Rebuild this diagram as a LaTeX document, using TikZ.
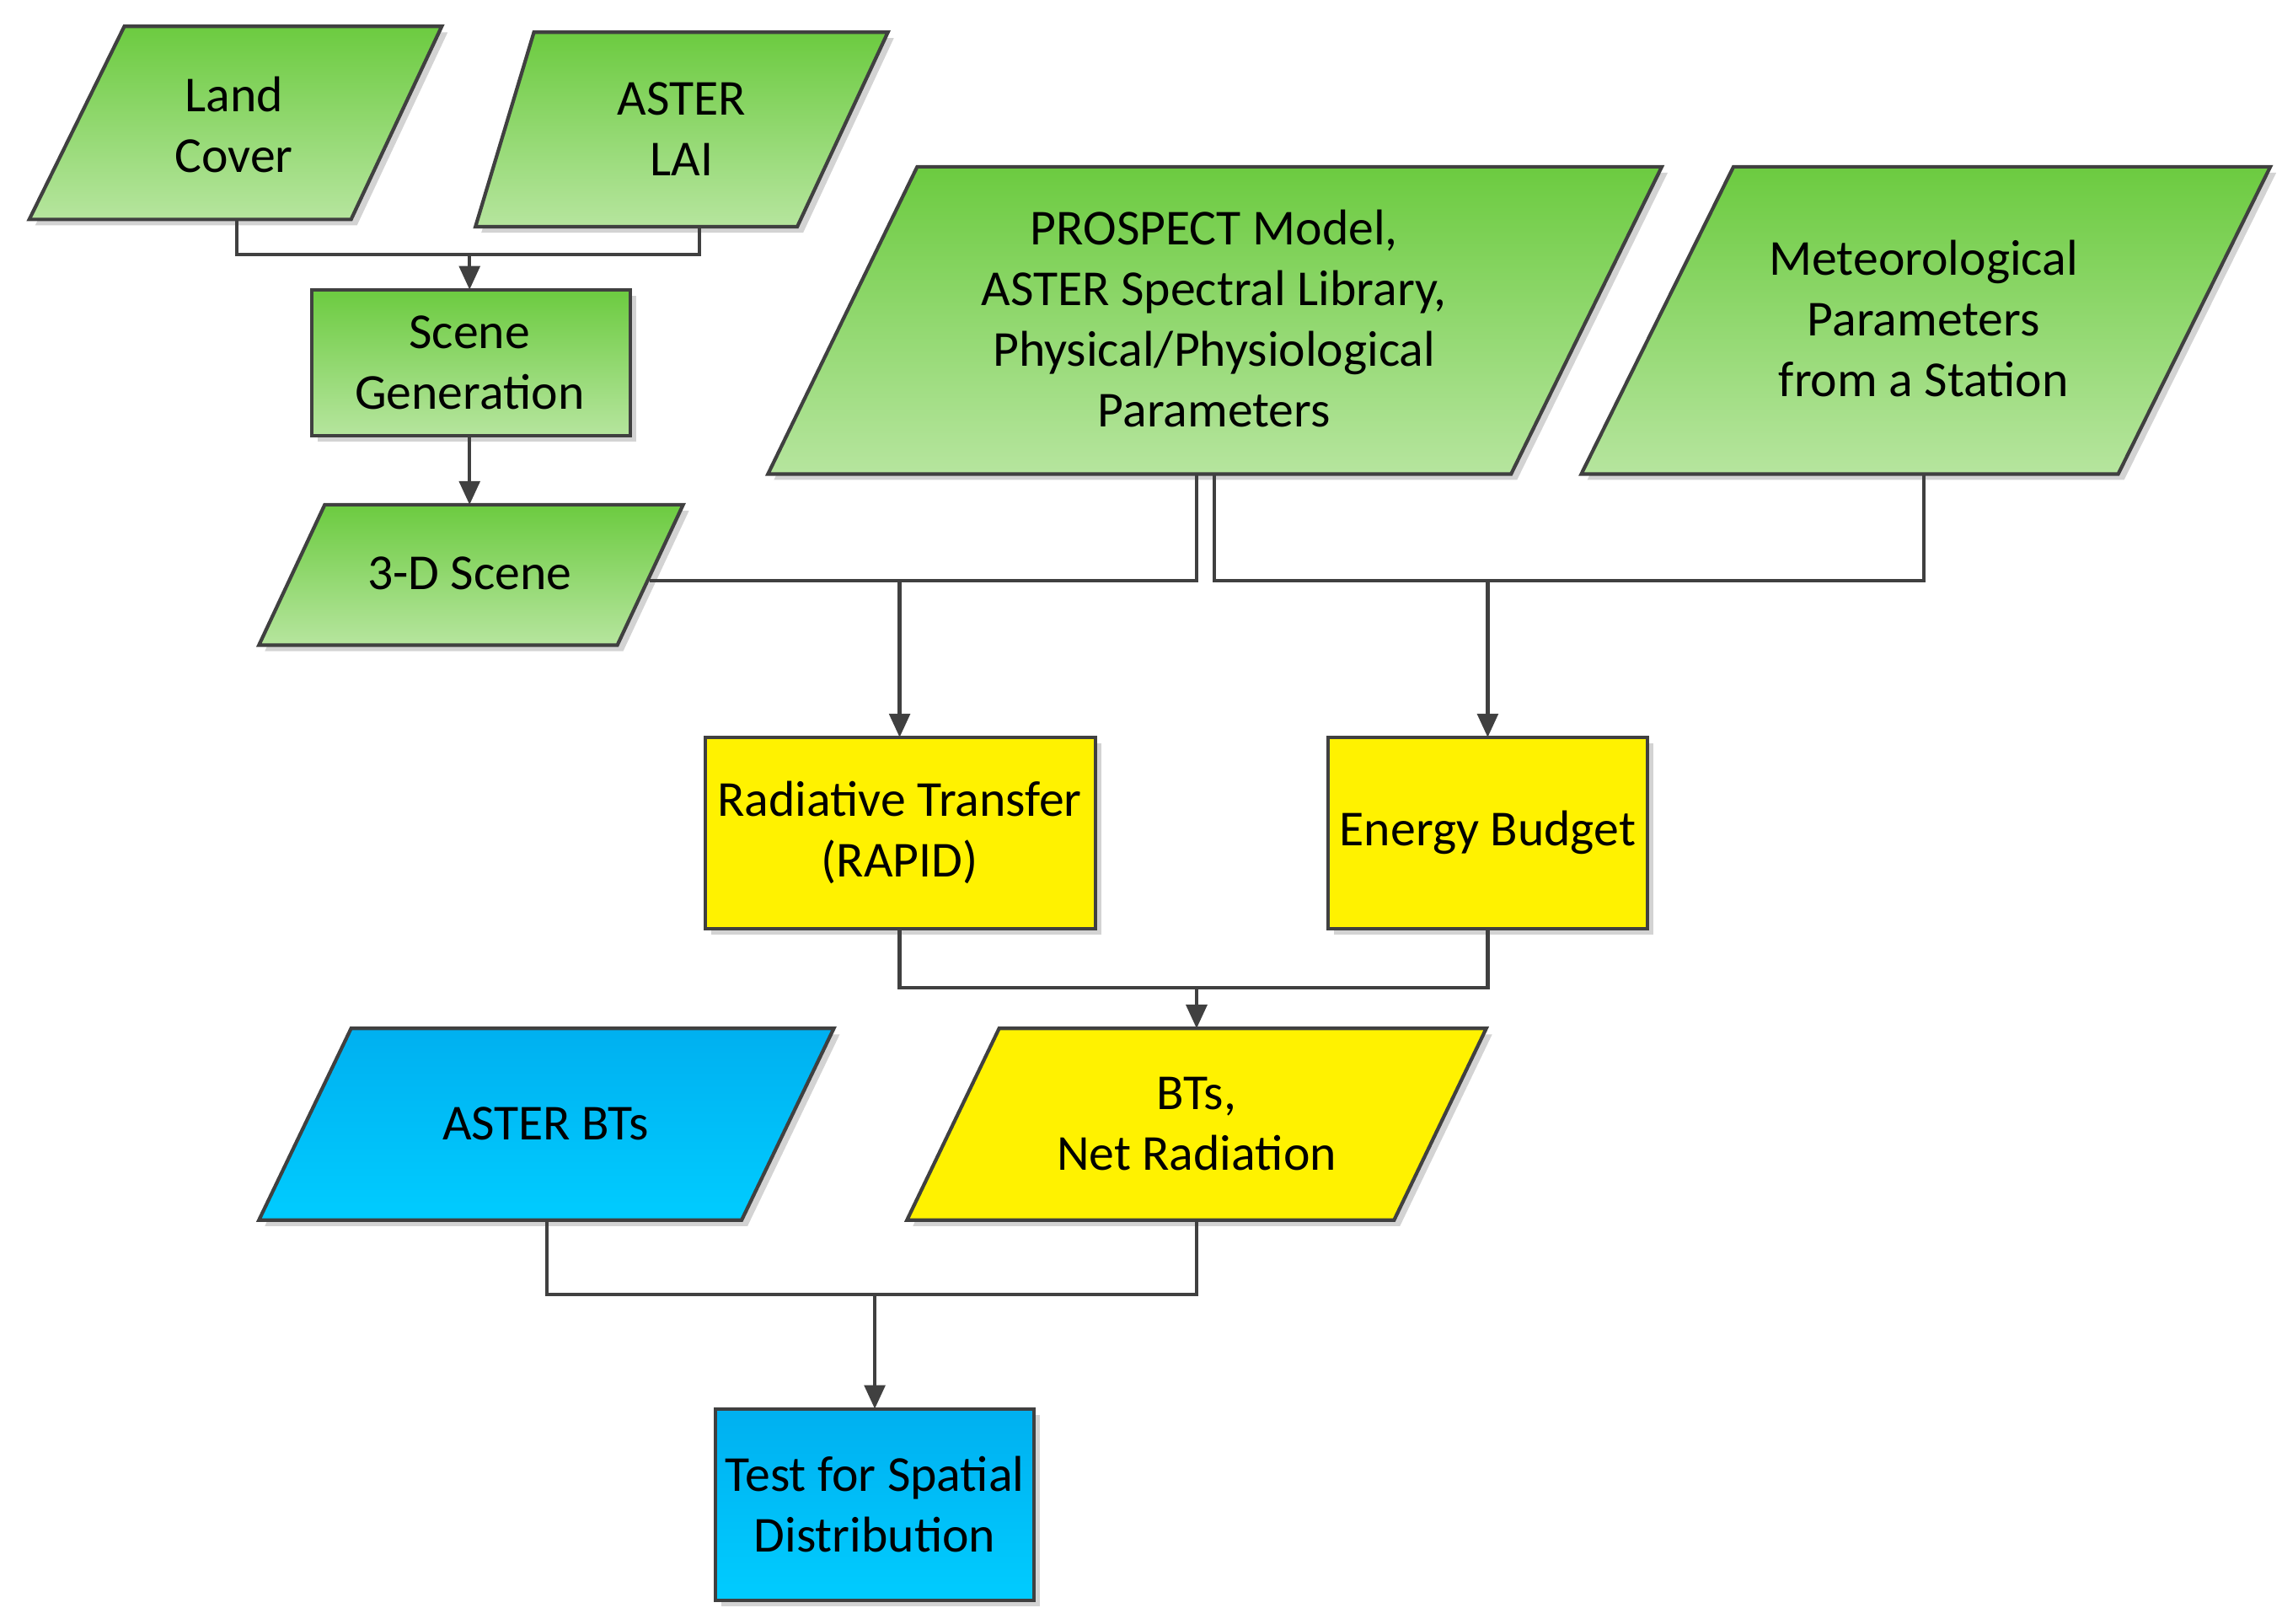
\documentclass[tikz,border=0pt]{standalone}
\usepackage{fontspec}
\setmainfont{Carlito}
\usetikzlibrary{arrows.meta,shadows}
\definecolor{gtop}{HTML}{6CCB40}
\definecolor{gbot}{HTML}{B6E59E}
\definecolor{btop}{HTML}{00B0F0}
\definecolor{bbot}{HTML}{00CCFF}
\definecolor{edge}{HTML}{404040}
\tikzset{
 box/.style={draw=edge,line width=1.2pt,drop shadow={shadow xshift=2pt,shadow yshift=-2pt,opacity=0.35}},
 green/.style={box,top color=gtop,bottom color=gbot},
 yel/.style={box,fill=yellow},
 blue/.style={box,top color=btop,bottom color=bbot},
 txt/.style={align=center,font=\fontsize{17}{20.5}\selectfont},
 ln/.style={draw=edge,line width=1.2pt},
 arr/.style={ln,-{Triangle[length=8pt,width=7pt]}}
}
\begin{document}
\begin{tikzpicture}[x=0.01736cm,y=-0.01736cm]
\useasboundingbox (0,0) rectangle (1560,1110);
% shapes
\path[green] (85,18)--(302,18)--(240,150)--(20,150)--cycle;
\node[txt] (lc) at (160,85) {Land\\Cover};
\path[green] (365,22)--(607,22)--(545,155)--(325,155)--cycle;
\node[txt] (lai) at (466,88) {ASTER\\LAI};
\path[green] (213,198) rectangle (431,298);
\node[txt] (sg) at (321,248) {Scene\\Generation};
\path[green] (222,345)--(467,345)--(422,441)--(177,441)--cycle;
\node[txt] (sc) at (321,392) {3-D Scene};
\path[green] (627,114)--(1136,114)--(1033,324)--(525,324)--cycle;
\node[txt] (pr) at (830,218) {PROSPECT Model,\\ASTER Spectral Library,\\Physical/Physiological\\Parameters};
\path[green] (1185,114)--(1552,114)--(1448,324)--(1081,324)--cycle;
\node[txt] (me) at (1315,218) {Meteorological\\Parameters\\from a Station};
\path[yel] (482,504) rectangle (749,635);
\node[txt] (rt) at (615,569) {Radiative Transfer\\(RAPID)};
\path[yel] (908,504) rectangle (1126,635);
\node[txt] (eb) at (1017,569) {Energy Budget};
\path[blue] (240,703)--(570,703)--(507,834)--(177,834)--cycle;
\node[txt] (ab) at (373,768) {ASTER BTs};
\path[yel] (683,703)--(1016,703)--(953,834)--(620,834)--cycle;
\node[txt] (bt) at (818,768) {BTs,\\Net Radiation};
\path[blue] (489,963) rectangle (707,1094);
\node[txt] (ts) at (598,1028) {Test for Spatial\\Distribution};
% coordinates
\coordinate (lcb) at (162,150); \coordinate (laib) at (478,155);
\coordinate (j1) at (321,174); \coordinate (sgt) at (321,198);
\coordinate (sgb) at (321,298); \coordinate (sct) at (321,345);
\coordinate (scr) at (444,397); \coordinate (prb1) at (818,324); \coordinate (prb2) at (830,324);
\coordinate (meb) at (1315,324);
\coordinate (j2) at (615,397); \coordinate (rtt) at (615,504);
\coordinate (j3) at (1017,397); \coordinate (ebt) at (1017,504);
\coordinate (rtb) at (615,635); \coordinate (ebb) at (1017,635);
\coordinate (j4) at (818,675); \coordinate (btt) at (818,703);
\coordinate (abb) at (374,834); \coordinate (btb) at (818,834);
\coordinate (j5) at (598,885); \coordinate (tst) at (598,963);
% connectors
\draw[ln] (lcb)|-(j1)-|(laib);
\draw[arr] (j1)--(sgt);
\draw[arr] (sgb)--(sct);
\draw[ln] (scr)-|(prb1);
\draw[arr] (j2)--(rtt);
\draw[ln] (prb2)|-(j3)-|(meb);
\draw[arr] (j3)--(ebt);
\draw[ln] (rtb)|-(j4)-|(ebb);
\draw[arr] (j4)--(btt);
\draw[ln] (abb)|-(j5)-|(btb);
\draw[arr] (j5)--(tst);
\end{tikzpicture}
\end{document}
